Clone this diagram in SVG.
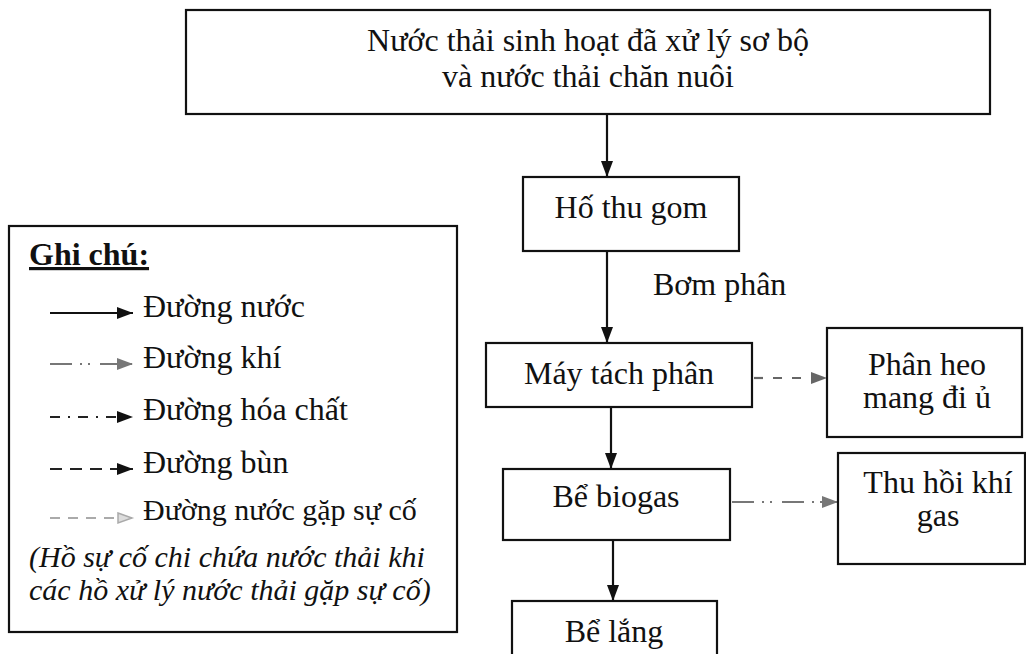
<svg xmlns="http://www.w3.org/2000/svg" width="1026" height="654" viewBox="0 0 1026 654">
<style>
text{font-family:"Liberation Serif","Times New Roman",serif;font-size:32px;fill:#111}
.c{text-anchor:middle}
.it{font-style:italic;font-size:30px}
.sm{font-size:30px}
.box{fill:#fff;stroke:#111;stroke-width:2.2}
.water{fill:none;stroke:#111;stroke-width:2.2}
.gas{fill:none;stroke:#777;stroke-width:2.2;stroke-dasharray:22 8 2 6 2 10}
.chem{fill:none;stroke:#222;stroke-width:2.2;stroke-dasharray:10 8 2 8}
.sludge{fill:none;stroke:#222;stroke-width:2.2;stroke-dasharray:12 8}
.sludge2{fill:none;stroke:#666;stroke-width:2.2;stroke-dasharray:9 10}
.emerg{fill:none;stroke:#aaa;stroke-width:2;stroke-dasharray:10 8}
</style>
<defs>
<marker id="aBlack" markerUnits="userSpaceOnUse" markerWidth="18" markerHeight="14" refX="16" refY="6" orient="auto"><path d="M0,0 L16,6 L0,12 Z" fill="#111"/></marker>
<marker id="aGray" markerUnits="userSpaceOnUse" markerWidth="18" markerHeight="14" refX="16" refY="6" orient="auto"><path d="M0,0 L16,6 L0,12 Z" fill="#777"/></marker>
<marker id="aDark" markerUnits="userSpaceOnUse" markerWidth="18" markerHeight="14" refX="16" refY="6" orient="auto"><path d="M0,0 L16,6 L0,12 Z" fill="#666"/></marker>
<marker id="aLight" markerUnits="userSpaceOnUse" markerWidth="18" markerHeight="14" refX="16" refY="6" orient="auto"><path d="M1,1 L15,6 L1,11 Z" fill="#ddd" stroke="#aaa" stroke-width="1.5"/></marker>
</defs>
<rect width="1026" height="654" fill="#fff"/>

<g id="connectors">
<line class="water" x1="607" y1="114" x2="607" y2="177" marker-end="url(#aBlack)"/>
<line class="water" x1="607" y1="251" x2="607" y2="343" marker-end="url(#aBlack)"/>
<line class="water" x1="611" y1="407" x2="611" y2="469" marker-end="url(#aBlack)"/>
<line class="water" x1="613" y1="540" x2="613" y2="601" marker-end="url(#aBlack)"/>
<line class="sludge2" x1="754" y1="378" x2="827" y2="378" marker-end="url(#aDark)"/>
<line class="gas" x1="732" y1="502" x2="838" y2="502" marker-end="url(#aGray)"/>
<text x="653" y="295">Bơm phân</text>
</g>

<g id="n-source">
<rect class="box" x="186" y="10" width="804" height="104"/>
<text class="c" x="588" y="51">Nước thải sinh hoạt đã xử lý sơ bộ</text>
<text class="c" x="588" y="87">và nước thải chăn nuôi</text>
</g>
<g id="n-hothugom">
<rect class="box" x="523" y="177" width="216" height="74"/>
<text class="c" x="631" y="218">Hố thu gom</text>
</g>
<g id="n-maytachphan">
<rect class="box" x="486" y="343" width="266" height="64"/>
<text class="c" x="619" y="384">Máy tách phân</text>
</g>
<g id="n-phanheo">
<rect class="box" x="827" y="328" width="195" height="109"/>
<text class="c" x="927" y="375">Phân heo</text>
<text class="c" x="927" y="408">mang đi ủ</text>
</g>
<g id="n-biogas">
<rect class="box" x="503" y="469" width="227" height="71"/>
<text class="c" x="616" y="507">Bể biogas</text>
</g>
<g id="n-thuhoi">
<rect class="box" x="838" y="453" width="187" height="111"/>
<text class="c" x="938" y="493">Thu hồi khí</text>
<text class="c" x="938" y="526">gas</text>
</g>
<g id="n-belang">
<rect class="box" x="512" y="601" width="205" height="60"/>
<text class="c" x="614" y="642">Bể lắng</text>
</g>

<g id="legend">
<rect class="box" x="9" y="226" width="448" height="406"/>
<text x="29" y="265" font-weight="bold" text-decoration="underline">Ghi chú:</text>
<line class="water" x1="50" y1="313" x2="133" y2="313" marker-end="url(#aBlack)"/>
<text x="143" y="317">Đường nước</text>
<line class="gas" x1="50" y1="364" x2="133" y2="364" marker-end="url(#aGray)"/>
<text x="143" y="368">Đường khí</text>
<line class="chem" x1="50" y1="417" x2="133" y2="417" marker-end="url(#aBlack)"/>
<text x="143" y="420">Đường hóa chất</text>
<line class="sludge" x1="50" y1="469" x2="133" y2="469" marker-end="url(#aBlack)"/>
<text x="143" y="473">Đường bùn</text>
<line class="emerg" x1="50" y1="518" x2="133" y2="518" marker-end="url(#aLight)"/>
<text class="sm" x="143" y="520">Đường nước gặp sự cố</text>
<text class="it" x="29" y="567">(Hồ sự cố chi chứa nước thải khi</text>
<text class="it" x="29" y="600">các hồ xử lý nước thải gặp sự cố)</text>
</g>
</svg>
